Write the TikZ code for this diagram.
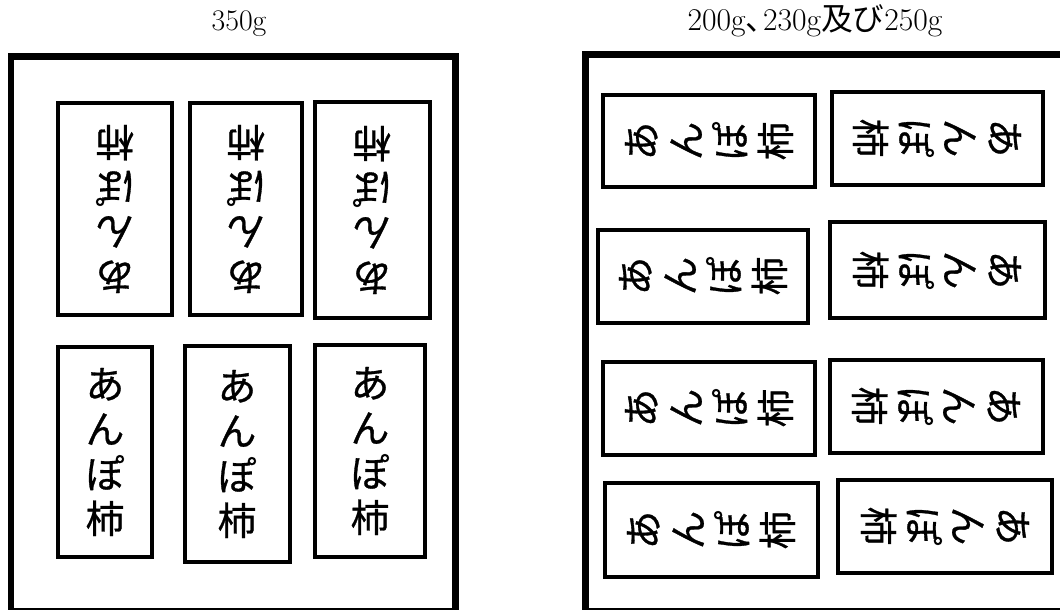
\documentclass[tikz,border=0pt]{standalone}
\usepackage{fontspec}
\newfontfamily\jpfont[FakeBold=0.8]{Noto Sans CJK JP}
\newfontfamily\jptitle{Noto Sans CJK JP}
\tikzset{>=latex}
\tikzset{
    kakibox/.style={draw, line width=0.08cm, inner sep=0pt, align=center,
        font=\fontsize{22}{25.5}\selectfont\jpfont},
    case/.style={line width=0.14cm},
    weight/.style={anchor=base, font=\fontsize{17}{20}\selectfont}
}

\begin{document}
\begin{tikzpicture}[x=0.02cm, y=-0.02cm]
    \useasboundingbox (0, 0) rectangle (1060, 609);
    % 350g
    \node[weight] (t350) at (239, 30) {350g};
    \draw[case] (11, 56) rectangle (455, 611);
    \foreach \x/\y/\w/\h/\r [count=\i] in {115/209/114/212/180, 246/209/112/212/180, 372/210/115/216/180,
        105/452/94/210/0, 237/454/105/216/0, 370/451/110/212/0}
        \node[kakibox, rotate=\r, minimum width=\w*0.02cm, minimum height=\h*0.02cm] (a\i) at (\x, \y) {あ\\ん\\ぽ\\柿};
    % 200g, 230g, 250g
    \node[weight, font=\fontsize{18}{20}\selectfont] (t200) at (815, 30) {200g\makebox[0.55em][l]{\jptitle 、}230g{\jptitle 及び}250g};
    \draw[case] (585, 54) rectangle (1064, 611);
    \foreach \x/\y/\w/\h/\r [count=\i] in {709/141/92/212/90, 937/138/93/211/-90,
        703/276/93/210/90, 937/270/96/215/-90,
        709/408/93/212/90, 936/406/93/213/-90,
        711/530/94/213/90, 945/526/93/214/-90}
        \node[kakibox, rotate=\r, minimum width=\w*0.02cm, minimum height=\h*0.02cm] (b\i) at (\x, \y) {あ\\ん\\ぽ\\柿};
\end{tikzpicture}
\end{document}
